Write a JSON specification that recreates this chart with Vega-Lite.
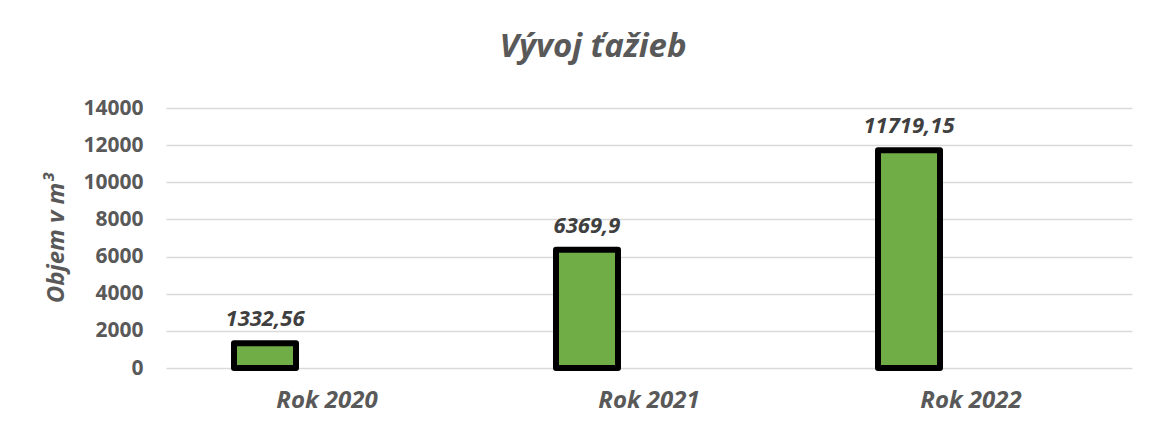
{
  "$schema": "https://vega.github.io/schema/vega-lite/v6.json",
  "width": 966,
  "height": 260,
  "autosize": "none",
  "padding": {"left": 166, "top": 108, "right": 19, "bottom": 64},
  "background": "white",
  "config": {
    "view": {"stroke": null},
    "font": "Open Sans",
    "locale": {"number": {"decimal": ",", "thousands": " ", "grouping": [3], "currency": ["", " €"]}}
  },
  "title": {
    "text": "Vývoj ťažieb",
    "fontSize": 33,
    "fontStyle": "italic",
    "fontWeight": "bold",
    "color": "#595959",
    "anchor": "middle",
    "frame": "group",
    "dx": -56,
    "baseline": "alphabetic",
    "offset": 7
  },
  "data": {
    "values": [
      {"rok": "Rok 2020", "objem": 1332.56, "seria": "Objem"},
      {"rok": "Rok 2021", "objem": 6369.9, "seria": "Objem"},
      {"rok": "Rok 2022", "objem": 11719.15, "seria": "Objem"}
    ]
  },
  "encoding": {
    "x": {
      "field": "rok",
      "type": "nominal",
      "sort": null,
      "scale": {"paddingInner": 0.4224, "paddingOuter": 0.2112},
      "axis": {
        "title": null,
        "domain": false,
        "ticks": false,
        "labelAngle": 0,
        "labelFontSize": 24,
        "labelFontWeight": "bold",
        "labelFontStyle": "italic",
        "labelColor": "#595959",
        "labelPadding": 20
      }
    },
    "xOffset": {
      "field": "seria",
      "type": "nominal",
      "scale": {"domain": ["Objem", "B", "C"], "paddingInner": 0, "paddingOuter": 0}
    },
    "y": {
      "field": "objem",
      "type": "quantitative",
      "scale": {"domain": [0, 14000], "nice": false},
      "axis": {
        "title": "Objem v m³",
        "titleFontSize": 24,
        "titleFontWeight": "bold",
        "titleFontStyle": "italic",
        "titleColor": "#595959",
        "titlePadding": 14,
        "values": [0, 2000, 4000, 6000, 8000, 10000, 12000, 14000],
        "format": "d",
        "domain": false,
        "ticks": false,
        "labelFontSize": 21,
        "labelFontWeight": "bold",
        "labelColor": "#595959",
        "labelPadding": 23,
        "gridColor": "#D9D9D9",
        "gridWidth": 1.5
      }
    }
  },
  "layer": [
    {
      "mark": {"type": "bar", "fill": "#70AD47", "stroke": "#000000", "strokeWidth": 6, "strokeJoin": "round"}
    },
    {
      "mark": {
        "type": "text",
        "baseline": "alphabetic",
        "dy": -17,
        "fontSize": 22,
        "fontWeight": "bold",
        "fontStyle": "italic",
        "color": "#404040"
      },
      "encoding": {
        "text": {"field": "objem", "type": "quantitative", "format": "~f"}
      }
    }
  ]
}
